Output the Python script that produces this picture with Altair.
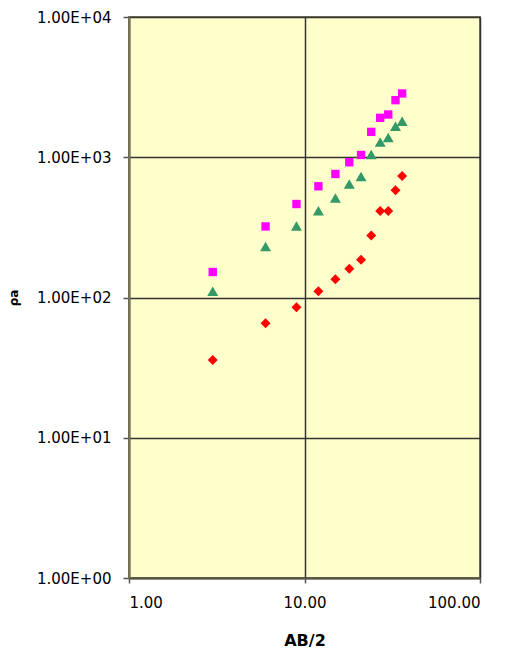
import altair as alt
import pandas as pd

ab2 = [3, 6, 9, 12, 15, 18, 21, 24, 27, 30, 33, 36]
series_sq = [152, 321, 464, 621, 760, 921, 1038, 1517, 1910, 2018, 2553, 2850]   # magenta squares
series_tri = [111, 231, 323, 416, 512, 644, 728, 1045, 1285, 1383, 1663, 1807]   # green triangles
series_dia = [35.9, 65.5, 85.3, 111, 135, 160, 186, 277, 413, 413, 581, 735]     # red diamonds
names = ["Serie 1", "Serie 2", "Serie 3"]
colors = ["#FF00FF", "#339966", "#FF0000"]
shapes = ["square", "triangle-up", "diamond"]
sizes = [70, 120, 100]
x_ticks = [1, 10, 100]
y_ticks = [1, 10, 100, 1000, 10000]

FONT = "DejaVu Sans"

x_enc = alt.X("ab2:Q",
              scale=alt.Scale(type="log", domain=[1, 100], nice=False),
              axis=alt.Axis(values=x_ticks, labelExpr="format(datum.value, '.2f')",
                            title="AB/2", titleFont=FONT, titleFontSize=16, titleFontWeight="bold",
                            titleColor="#000000", titlePadding=22,
                            labelFont=FONT, labelFontSize=15, labelColor="#000000",
                            labelPadding=12, tickSize=5, tickColor="#555555", tickWidth=1.5,
                            grid=True, gridColor="#333333", gridWidth=1.5,
                            domainColor="#555544", domainWidth=2))
y_enc = alt.Y("rho:Q",
              scale=alt.Scale(type="log", domain=[1, 10000], nice=False),
              axis=alt.Axis(values=y_ticks,
                            labelExpr="'1.00E+' + (round(log(datum.value)/LN10) < 10 ? '0' : '') + round(log(datum.value)/LN10)",
                            title="ρa", titleFont=FONT, titleFontSize=12, titleFontWeight="bold",
                            titleColor="#000000", titlePadding=16,
                            labelFont=FONT, labelFontSize=15, labelColor="#000000",
                            labelPadding=12, tickSize=6, tickColor="#555555", tickWidth=1.5,
                            grid=True, gridColor="#333333", gridWidth=1.5,
                            domainColor="#777755", domainWidth=2))

layers = []
for i, vals in enumerate([series_sq, series_tri, series_dia]):
    d = pd.DataFrame({"ab2": ab2, "rho": vals, "series": names[i]})
    layers.append(
        alt.Chart(d).mark_point(filled=True, opacity=1, strokeWidth=0,
                                shape=shapes[i], size=sizes[i], color=colors[i])
        .encode(x=x_enc, y=y_enc)
    )

chart = alt.layer(*layers).properties(
    width=351, height=561,
    autosize=alt.AutoSizeParams(type="none"),
    padding={"left": 129, "top": 17, "right": 28, "bottom": 72},
    background="#FFFFFF",
).configure_view(
    fill="#FFFFCC", stroke="#7a7a5a", strokeWidth=2
)

chart.save("out.html", embed_options={"renderer": "svg", "actions": False})
